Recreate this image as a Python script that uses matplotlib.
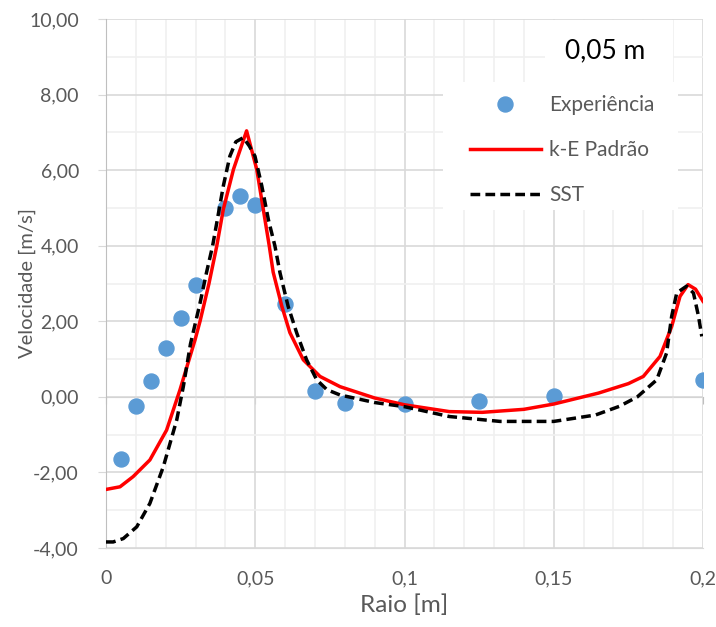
import numpy as np
import matplotlib
matplotlib.use("Agg")
import matplotlib.pyplot as plt
from matplotlib.patches import Rectangle
from matplotlib.ticker import MultipleLocator, FuncFormatter

# dados experimentais
exp_x = [0.005, 0.01, 0.015, 0.02, 0.025, 0.03, 0.04, 0.045, 0.05, 0.06,
         0.07, 0.08, 0.1, 0.125, 0.15, 0.2]
exp_y = [-1.64, -0.24, 0.42, 1.28, 2.08, 2.97, 4.99, 5.31, 5.09, 2.47,
         0.16, -0.15, -0.19, -0.11, 0.03, 0.45]

# modelo k-E padrao
ke_x = [0, 0.0047, 0.0091, 0.0147, 0.0203, 0.0248, 0.0275, 0.0298, 0.0315,
        0.0345, 0.0371, 0.0393, 0.0427, 0.0471, 0.0505, 0.0527, 0.0547, 0.056,
        0.0589, 0.0616, 0.0661, 0.0717, 0.0784, 0.09, 0.1, 0.115, 0.126, 0.14,
        0.15, 0.165, 0.175, 0.18, 0.1856, 0.1895, 0.1923, 0.195, 0.1975, 0.2]
ke_y = [-2.45, -2.38, -2.11, -1.67, -0.88, 0.19, 0.9, 1.5, 2.0,
        3.0, 3.99, 4.96, 6.02, 7.04, 6.02, 4.96, 3.99, 3.3,
        2.4, 1.7, 0.98, 0.54, 0.27, -0.03, -0.21, -0.39, -0.41, -0.33,
        -0.19, 0.1, 0.35, 0.54, 1.07, 1.86, 2.66, 2.97, 2.85, 2.53]

# modelo SST
sst_x = [0, 0.0024, 0.0058, 0.0103, 0.0147, 0.0192, 0.0237, 0.0259, 0.0283,
         0.0315, 0.0337, 0.0357, 0.0373, 0.0393, 0.0415, 0.0435, 0.046, 0.048,
         0.0499, 0.0522, 0.0544, 0.0566, 0.0583, 0.061, 0.0639, 0.0672, 0.0706,
         0.074, 0.0784, 0.09, 0.1, 0.115, 0.132, 0.15, 0.164, 0.172, 0.178,
         0.1845, 0.1878, 0.1895, 0.1912, 0.1945, 0.1968, 0.1985, 0.1996]
sst_y = [-3.84, -3.84, -3.75, -3.44, -2.82, -1.85, -0.61, 0.27, 1.4,
         2.48, 3.3, 3.99, 4.69, 5.58, 6.37, 6.75, 6.86, 6.64,
         6.37, 5.58, 4.69, 3.99, 3.28, 2.4, 1.69, 0.98, 0.45,
         0.19, 0.05, -0.15, -0.26, -0.52, -0.65, -0.65, -0.48, -0.25, 0.0,
         0.45, 1.16, 2.13, 2.75, 2.93, 2.75, 2.13, 1.6]

plt.rcParams['font.family'] = ['Lato', 'DejaVu Sans']
gray = '#595959'
W, H = 716, 627

fig = plt.figure(figsize=(7.16, 6.27), dpi=100)
ax = fig.add_axes([106 / W, 1 - 548 / H, 597 / W, 529 / H])

ax.plot(exp_x, exp_y, 'o', color='#5b9bd5', markersize=10.8, zorder=3,
        label='Experiência')
ax.plot(ke_x, ke_y, '-', color='#ff0000', lw=2.5, zorder=4,
        label='k-E Padrão')
ax.plot(sst_x, sst_y, '--', color='black', lw=2.5, dashes=(2.8, 1.5), zorder=5,
        label='SST')

ax.set_xlim(0, 0.2)
ax.set_ylim(-4, 10)
ax.xaxis.set_major_locator(MultipleLocator(0.05))
ax.xaxis.set_minor_locator(MultipleLocator(0.01))
ax.yaxis.set_major_locator(MultipleLocator(2))
ax.yaxis.set_minor_locator(MultipleLocator(1))

def fmt_x(v, pos):
    s = ('%.2f' % v).rstrip('0').rstrip('.')
    return s.replace('.', ',')

ax.xaxis.set_major_formatter(FuncFormatter(fmt_x))
ax.yaxis.set_major_formatter(FuncFormatter(lambda v, p: ('%.2f' % v).replace('.', ',')))

ax.grid(which='major', color='#d9d9d9', lw=1.2)
ax.grid(which='minor', color='#f0f0f0', lw=1.2)
ax.set_axisbelow(True)

for s in ['top', 'right']:
    ax.spines[s].set_visible(False)
ax.spines['left'].set_color('#bfbfbf')
ax.spines['bottom'].set_color('#d9d9d9')
ax.tick_params(axis='both', which='minor', length=0)
ax.tick_params(axis='y', which='major', length=5.5, color='#d9d9d9',
               labelsize=14, labelcolor=gray, pad=14)
ax.tick_params(axis='x', which='major', length=0, labelsize=14,
               labelcolor=gray, pad=16)

# eixo horizontal em y = 0
sec = ax.secondary_xaxis(4 / 14)
sec.spines['bottom'].set_color('#bfbfbf')
sec.xaxis.set_major_locator(MultipleLocator(0.05))
sec.tick_params(length=5, color='#bfbfbf', labelbottom=False)

ax.set_xlabel('Raio [m]', fontsize=17.5, color=gray, labelpad=5)
ax.set_ylabel('Velocidade [m/s]', fontsize=14.5, color=gray)
ax.yaxis.set_label_coords(-0.118, 0.5)

# fundo branco da legenda e do titulo
ax.add_patch(Rectangle((443 / W, 1 - 210 / H), 235 / W, 128 / H,
                       transform=fig.transFigure, facecolor='white',
                       edgecolor='none', zorder=1, clip_on=False))
ax.add_patch(Rectangle((545 / W, 1 - 82 / H), 128 / W, 62 / H,
                       transform=fig.transFigure, facecolor='white',
                       edgecolor='none', zorder=1, clip_on=False))

leg = ax.legend(loc='upper left', bbox_to_anchor=(470 / W, 1 - 95 / H),
                bbox_transform=fig.transFigure, frameon=False, fontsize=15,
                handlelength=3.4, labelspacing=1.2, borderpad=0,
                handletextpad=0.4, borderaxespad=0)
for t in leg.get_texts():
    t.set_color(gray)

fig.text(605 / W, 1 - 51 / H, '0,05 m', fontsize=19, color='black',
         ha='center', va='center')

fig.savefig('out.png', dpi=100)
